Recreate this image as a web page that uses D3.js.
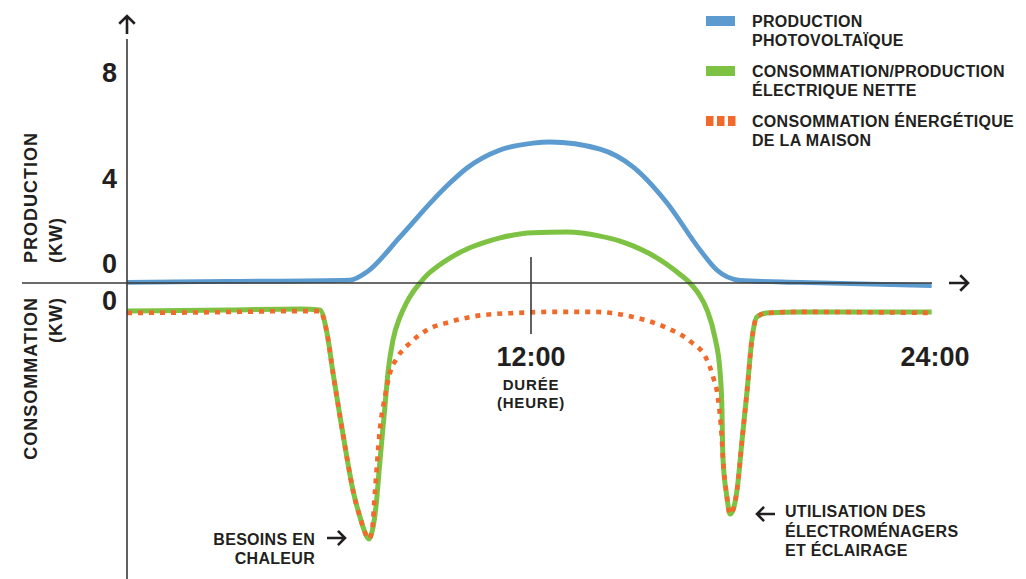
<!DOCTYPE html>
<html>
<head>
<meta charset="utf-8">
<script src="https://cdn.jsdelivr.net/npm/d3@7"></script>
<style>
  html, body { margin: 0; padding: 0; background: #fff; }
  svg { display: block; font-family: "Liberation Sans", Arial, Helvetica, sans-serif; }
</style>
</head>
<body>
<svg id="chart" width="1026" height="579"></svg>
<script>
// ---------- DATA ----------
// Production photovoltaïque (kW) vs time of day (hours)
const hoursPV = [0, 3, 6.62, 7.13, 8.11, 9.09, 9.59, 10.1, 11.08, 12.06, 12.56, 14.05, 15.03, 16.04, 17.02, 17.52, 18.21, 20, 23.9];
const pvKW    = [0.02, 0.06, 0.11, 0.42, 1.74, 3.13, 3.77, 4.34, 5.02, 5.28, 5.32, 5.05, 4.38, 3.02, 1.25, 0.49, 0.1, 0.02, -0.1];

// Consommation/production électrique nette (kW, signed)
const hoursNet = [0, 3, 5.14, 5.73, 5.94, 6.12, 6.33, 6.53, 6.71, 6.92, 7.13, 7.19, 7.31, 7.40, 7.49, 7.57, 7.66, 7.75, 7.90, 8.11, 8.30, 8.50, 8.70, 8.95, 9.25, 9.60, 10.10, 10.60, 11.08, 12.06, 13.07, 14.05, 14.60, 15.03, 15.50, 16.04, 16.40, 16.72, 17.00, 17.23, 17.46, 17.61, 17.67, 17.70, 17.82, 17.91, 18.0, 18.12, 18.27, 18.42, 18.56, 18.71, 19.01, 20, 23.9];
const netKW    = [-1.06, -1.02, -0.98, -1.02, -1.89, -3.40, -5.06, -6.57, -7.81, -8.83, -9.58, -9.66, -9.21, -8.38, -7.06, -5.92, -4.68, -3.40, -2.15, -1.28, -0.75, -0.33, 0, 0.35, 0.65, 0.95, 1.28, 1.52, 1.70, 1.90, 1.92, 1.77, 1.60, 1.40, 1.12, 0.70, 0.35, 0, -0.45, -1.02, -2.04, -3.28, -4.68, -6.57, -8.08, -8.72, -8.57, -7.81, -5.92, -4.04, -2.15, -1.28, -1.13, -1.09, -1.09];

// Consommation énergétique de la maison (kW, drawn downward)
const hoursHome = [0, 2.17, 5.14, 5.73, 5.94, 6.12, 6.33, 6.53, 6.71, 6.92, 7.13, 7.19, 7.28, 7.37, 7.51, 7.66, 7.81, 8.02, 8.41, 8.91, 9.59, 10.57, 11.58, 12.56, 13.84, 15.03, 16.04, 16.72, 17.23, 17.41, 17.55, 17.67, 17.70, 17.82, 17.91, 18.0, 18.12, 18.27, 18.42, 18.56, 18.71, 19.01, 20, 23.9];
const homeKW    = [1.13, 1.11, 1.06, 1.06, 1.89, 3.40, 5.06, 6.57, 7.81, 8.83, 9.58, 9.66, 9.32, 7.81, 5.55, 4.30, 3.40, 2.83, 2.26, 1.77, 1.47, 1.21, 1.13, 1.09, 1.09, 1.28, 1.70, 2.19, 2.91, 3.55, 4.30, 5.92, 6.57, 8.08, 8.72, 8.57, 7.81, 5.92, 4.04, 2.15, 1.28, 1.13, 1.09, 1.13];

const yTickValues = [8, 4];
const xTickValues = [12, 24];
const xTickLabels = ["12:00", "24:00"];
const zeroLabels = ["0", "0"];
const legendLabels = [
  ["PRODUCTION", "PHOTOVOLTAÏQUE"],
  ["CONSOMMATION/PRODUCTION", "ÉLECTRIQUE NETTE"],
  ["CONSOMMATION ÉNERGÉTIQUE", "DE LA MAISON"]
];
const yTitleTop = ["PRODUCTION", "(KW)"];
const yTitleBottom = ["CONSOMMATION", "(KW)"];
const xTitle = ["DURÉE", "(HEURE)"];
const noteHeat = ["BESOINS EN", "CHALEUR"];
const noteAppliances = ["UTILISATION DES", "ÉLECTROMÉNAGERS", "ET ÉCLAIRAGE"];

// ---------- STYLE ----------
const C_BLUE = "#5b9bcf", C_GREEN = "#7dc242", C_ORANGE = "#f26a2b";
const C_TEXT = "#231f20", C_AXIS = "#3a3a3a";

const svg = d3.select("#chart");
const x = d3.scaleLinear().domain([0, 24]).range([127, 935]);
const y = d3.scaleLinear().domain([0, 8]).range([283, 71]);

const line = d3.line().x(d => x(d[0])).y(d => y(d[1])).curve(d3.curveMonotoneX);

const pvData = hoursPV.map((h, i) => [h, pvKW[i]]);
const netData = hoursNet.map((h, i) => [h, netKW[i]]);
const homeData = hoursHome.map((h, i) => [h, -homeKW[i]]);

svg.append("path").attr("d", line(pvData)).attr("fill", "none")
  .attr("stroke", C_BLUE).attr("stroke-width", 4.8);
svg.append("path").attr("d", line(netData)).attr("fill", "none")
  .attr("stroke", C_GREEN).attr("stroke-width", 5);
svg.append("path").attr("d", line(homeData)).attr("fill", "none")
  .attr("stroke", C_ORANGE).attr("stroke-width", 4.6).attr("stroke-dasharray", "5,6");

// ---------- AXES ----------
const ax = svg.append("g").attr("stroke", C_AXIS).attr("stroke-width", 1.6).attr("fill", "none");
ax.append("line").attr("x1", x(0)).attr("x2", x(0)).attr("y1", 39).attr("y2", 579);
ax.append("line").attr("x1", 22).attr("x2", 932).attr("y1", y(0)).attr("y2", y(0));
ax.append("line").attr("x1", x(12)).attr("x2", x(12)).attr("y1", y(0) - 26).attr("y2", y(0) + 51);

const arrows = svg.append("g").attr("stroke", C_TEXT).attr("stroke-width", 2.6).attr("fill", "none")
  .attr("stroke-linecap", "butt").attr("stroke-linejoin", "miter");
function arrow(x1, y1, x2, y2, hs) {
  const a = Math.atan2(y2 - y1, x2 - x1);
  const p1 = [x2 - hs * Math.cos(a - Math.PI / 4), y2 - hs * Math.sin(a - Math.PI / 4)];
  const p2 = [x2 - hs * Math.cos(a + Math.PI / 4), y2 - hs * Math.sin(a + Math.PI / 4)];
  arrows.append("path").attr("d", `M${x1},${y1}L${x2},${y2}M${p1[0]},${p1[1]}L${x2},${y2}L${p2[0]},${p2[1]}`);
}
arrow(x(0), 34, x(0), 16, 11);
arrow(949, y(0), 968, y(0), 11);
arrow(327, 538, 345, 538, 10);
arrow(775, 514, 757, 514, 10);

// y tick labels
const yAxis = svg.append("g").attr("transform", `translate(${x(0)},0)`)
  .call(d3.axisLeft(y).tickValues(yTickValues).tickSize(0).tickPadding(10).tickFormat(d3.format("d")));
yAxis.select(".domain").remove();
yAxis.selectAll("text").attr("font-size", 27).attr("font-weight", "bold").attr("fill", C_TEXT)
  .attr("font-family", "Liberation Sans, Arial, sans-serif").attr("dy", "0.4em");

const big = svg.append("g").attr("font-size", 27).attr("font-weight", "bold").attr("fill", C_TEXT);
big.append("text").attr("x", 117).attr("y", y(0) - 10).attr("text-anchor", "end").text(zeroLabels[0]);
big.append("text").attr("x", 117).attr("y", y(0) + 27).attr("text-anchor", "end").text(zeroLabels[1]);
xTickValues.forEach((v, i) => {
  big.append("text").attr("x", x(v)).attr("y", 366).attr("text-anchor", "middle").text(xTickLabels[i]);
});

// ---------- SMALL TEXT ----------
const small = svg.append("g").attr("font-size", 16).attr("font-weight", "bold").attr("fill", C_TEXT)
  .attr("letter-spacing", "0.3px");

// x title
small.append("text").attr("x", x(12)).attr("y", 390).attr("text-anchor", "middle").attr("font-size", 15)
  .attr("letter-spacing", "0.8px").text(xTitle[0]);
small.append("text").attr("x", x(12)).attr("y", 408).attr("text-anchor", "middle").attr("font-size", 15)
  .attr("letter-spacing", "0.8px").text(xTitle[1]);

// y titles
const yt1 = svg.append("g").attr("transform", "translate(37,263) rotate(-90)")
  .attr("font-size", 18).attr("font-weight", "bold").attr("fill", C_TEXT).attr("letter-spacing", "1px");
yt1.append("text").attr("x", 0).attr("y", 0).text(yTitleTop[0]);
yt1.append("text").attr("x", 0).attr("y", 25).text(yTitleTop[1]);
const yt2 = svg.append("g").attr("transform", "translate(37,297) rotate(-90)")
  .attr("font-size", 18).attr("font-weight", "bold").attr("fill", C_TEXT).attr("letter-spacing", "1px");
yt2.append("text").attr("x", 0).attr("y", 0).attr("text-anchor", "end").text(yTitleBottom[0]);
yt2.append("text").attr("x", 0).attr("y", 25).attr("text-anchor", "end").text(yTitleBottom[1]);

// annotations
noteHeat.forEach((t, i) => {
  small.append("text").attr("x", 315).attr("y", 545 + i * 18.5).attr("text-anchor", "end").text(t);
});
noteAppliances.forEach((t, i) => {
  small.append("text").attr("x", 785).attr("y", 517 + i * 19.5).text(t);
});

// ---------- LEGEND ----------
const lg = svg.append("g");
const legY = [16, 66, 116];
lg.append("rect").attr("x", 706).attr("y", legY[0]).attr("width", 29).attr("height", 10).attr("fill", C_BLUE);
lg.append("rect").attr("x", 706).attr("y", legY[1]).attr("width", 29).attr("height", 10).attr("fill", C_GREEN);
[0, 1, 2].forEach(k => {
  lg.append("rect").attr("x", 706 + k * 11).attr("y", legY[2]).attr("width", 7.5).attr("height", 10).attr("fill", C_ORANGE);
});
legendLabels.forEach((lines, i) => {
  lines.forEach((t, j) => {
    small.append("text").attr("x", 752).attr("y", legY[i] + 11 + j * 19).text(t);
  });
});
</script>
</body>
</html>
